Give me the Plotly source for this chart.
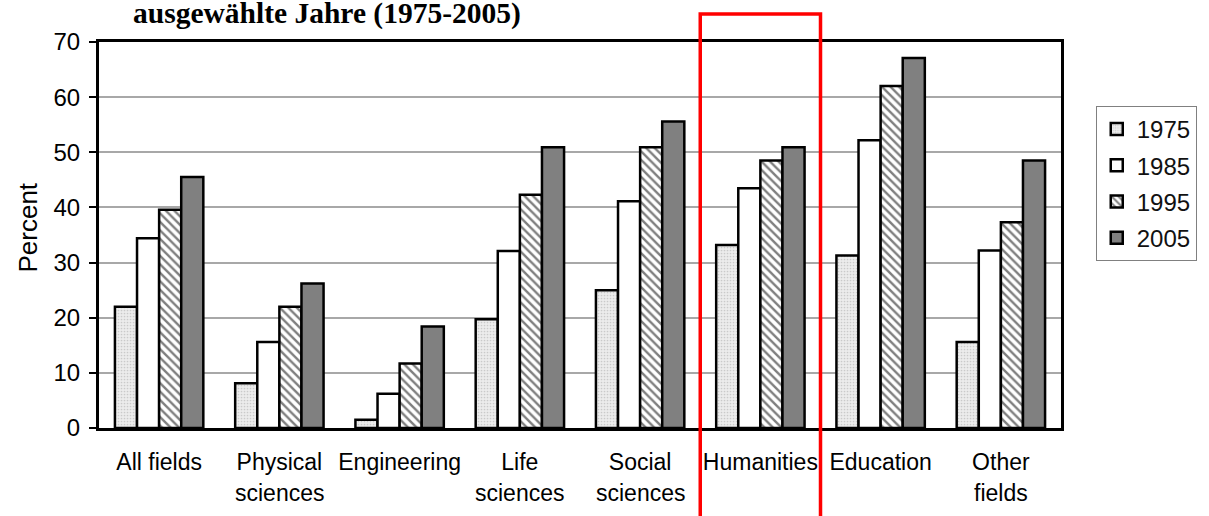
import plotly.graph_objects as go

categories = ["All fields", "Physical\nsciences", "Engineering", "Life\nsciences",
              "Social\nsciences", "Humanities", "Education", "Other\nfields"]
years = ["1975", "1985", "1995", "2005"]
v1975 = [22.0, 8.1, 1.5, 19.7, 25.0, 33.2, 31.3, 15.6]
v1985 = [34.4, 15.6, 6.2, 32.1, 41.1, 43.5, 52.2, 32.2]
v1995 = [39.6, 22.0, 11.7, 42.3, 50.9, 48.5, 62.0, 37.3]
v2005 = [45.5, 26.2, 18.4, 50.9, 55.6, 50.9, 67.1, 48.5]
y_ticks = [0, 10, 20, 30, 40, 50, 60, 70]
title_text = "ausgewählte Jahre (1975-2005)"
y_title = "Percent"
highlight = "Humanities"

W, H = 1209, 516
ML, MR, MT, MB = 99, 141, 42, 88
PW, PH = W - ML - MR, H - MT - MB


def px_x(px):
    return (px - ML) / PW


def px_y(py):
    return (H - MB - py) / PH


line1 = [c.split("\n")[0] for c in categories]
line2 = [c.split("\n")[1] if "\n" in c else "" for c in categories]
xi = list(range(len(categories)))

FONT = "Liberation Sans, Arial, sans-serif"
edge = dict(color="black", width=2.5)

styles = {
    "1975": dict(color="#e0e0e0", line=edge,
                 pattern=dict(shape=".", fgcolor="#a8a8a8", bgcolor="#ececec", size=3, solidity=0.25)),
    "1985": dict(color="white", line=edge),
    "1995": dict(color="white", line=edge,
                 pattern=dict(shape="\\", fgcolor="black", bgcolor="white", size=6, solidity=0.4)),
    "2005": dict(color="#808080", line=edge),
}

fig = go.Figure()
for yr, vals in zip(years, [v1975, v1985, v1995, v2005]):
    fig.add_trace(go.Bar(x=xi, y=vals, name=yr, marker=styles[yr], legendgroup=yr))

hi = categories.index(highlight)
n = len(categories)
fig.add_shape(type="rect", xref="x domain", yref="paper",
              x0=hi / n, x1=(hi + 1) / n, y0=px_y(530), y1=px_y(14),
              line=dict(color="#ff0000", width=3.5), fillcolor="rgba(0,0,0,0)", layer="above")

annotations = [
    dict(text="<b>" + title_text + "</b>", xref="paper", yref="paper",
         x=px_x(131), y=px_y(14), xanchor="left", yanchor="middle", showarrow=False,
         font=dict(family="Liberation Serif, Times New Roman, serif", size=29.5, color="black")),
    dict(text=y_title, xref="paper", yref="paper", x=px_x(27), y=px_y(228),
         xanchor="center", yanchor="middle", textangle=-90, showarrow=False,
         font=dict(family=FONT, size=26, color="black")),
]
for i, t in enumerate(line2):
    if t:
        annotations.append(dict(text=t, xref="x", yref="paper", x=i, y=px_y(493),
                                xanchor="center", yanchor="middle", showarrow=False,
                                font=dict(family=FONT, size=23, color="black")))

fig.update_layout(
    width=W, height=H,
    margin=dict(l=ML, r=MR, t=MT, b=MB, pad=0),
    paper_bgcolor="white", plot_bgcolor="white",
    barmode="group", bargap=0.265, bargroupgap=0,
    font=dict(family=FONT, size=20, color="black"),
    showlegend=True,
    legend=dict(x=px_x(1103), y=px_y(106), xanchor="left", yanchor="top",
                bordercolor="#808080", borderwidth=1, bgcolor="white",
                font=dict(family=FONT, size=24, color="#111"),
                tracegroupgap=2, traceorder="grouped"),
    annotations=annotations,
)
fig.update_xaxes(range=[-0.5, n - 0.5], tickmode="array", tickvals=xi, ticktext=line1,
                 showline=True, linecolor="black", linewidth=3, mirror=True,
                 ticks="", showgrid=False, zeroline=False, ticklabelstandoff=11,
                 tickfont=dict(family=FONT, size=23, color="black"))
fig.update_yaxes(range=[0, 70], tickvals=y_ticks, showline=True, linecolor="black", linewidth=3,
                 mirror=True, ticks="outside", ticklen=7, tickwidth=2, tickcolor="black",
                 showgrid=True, gridcolor="#a8a8a8", gridwidth=1.5, zeroline=False,
                 ticklabelstandoff=4,
                 tickfont=dict(family=FONT, size=24, color="black"))

fig.write_html("out.html", config={"displayModeBar": False},
               post_script="document.body.style.margin='0';document.body.style.overflow='hidden';")
